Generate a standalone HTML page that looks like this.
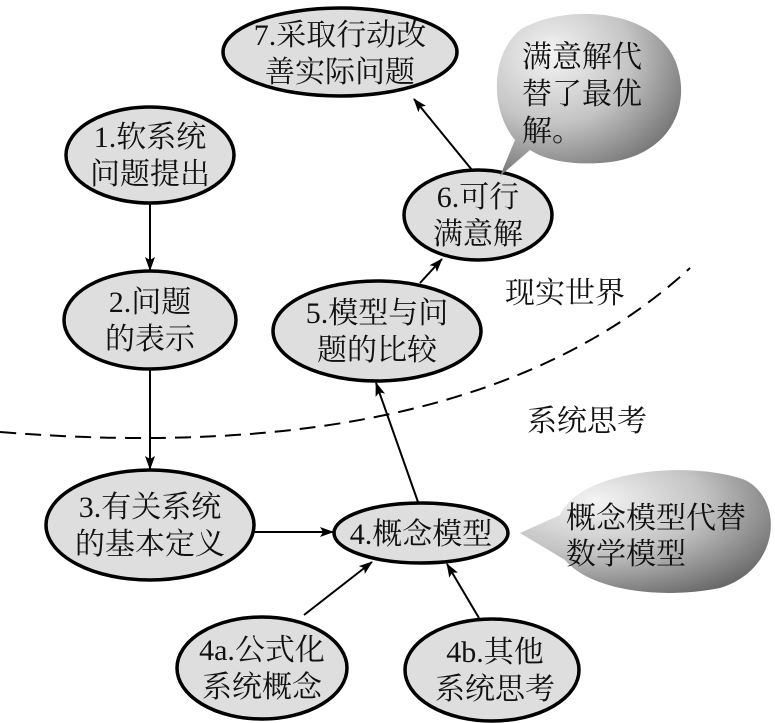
<!DOCTYPE html>
<html><head><meta charset="utf-8"><style>
html,body{margin:0;padding:0;background:#fff;}
svg{display:block}
text{font-family:"Liberation Serif","Noto Serif CJK SC",serif;font-size:30px;fill:#111;text-anchor:middle}
</style></head><body>
<svg width="775" height="723" viewBox="0 0 775 723" xmlns="http://www.w3.org/2000/svg">
<defs>
<radialGradient id="cg" cx="0.3" cy="0.25" r="0.85">
<stop offset="0" stop-color="#f4f4f4"/><stop offset="0.5" stop-color="#c4c4c4"/><stop offset="1" stop-color="#6a6a6a"/>
</radialGradient>
<marker id="a" markerWidth="14" markerHeight="10" refX="13" refY="5" orient="auto" markerUnits="userSpaceOnUse">
<path d="M0,0 L14,5 L0,10 L3,5 Z" fill="#000"/></marker>
</defs>
<g fill="#dedede" stroke="#000" stroke-width="3.5">
<ellipse cx="340" cy="52" rx="117" ry="44"/>
<ellipse cx="150" cy="155" rx="84" ry="48"/>
<ellipse cx="478" cy="215" rx="74" ry="45"/>
<ellipse cx="150" cy="320" rx="86" ry="49"/>
<ellipse cx="377" cy="331" rx="104" ry="50"/>
<ellipse cx="150" cy="525" rx="104" ry="55"/>
<ellipse cx="421" cy="533" rx="87" ry="30"/>
<ellipse cx="262" cy="668" rx="85" ry="51"/>
<ellipse cx="492" cy="670" rx="87" ry="51"/>
</g>
<path d="M520,30 C560,5 650,5 675,60 C695,110 665,160 600,163 C570,165 545,160 530,150 L500,176 L515,140 C490,110 490,55 520,30 Z" fill="url(#cg)"/>
<path d="M520,533 L560,515 C580,470 690,460 745,480 C785,500 780,570 720,588 C660,600 590,590 565,560 Z" fill="url(#cg)"/>
<path d="M0,432 Q470,470 690,268" fill="none" stroke="#000" stroke-width="2" stroke-dasharray="16,9"/>
<g stroke="#000" stroke-width="2" fill="none" marker-end="url(#a)">
<line x1="472" y1="170" x2="414" y2="99"/>
<line x1="420" y1="283" x2="442" y2="259"/>
<line x1="150" y1="203" x2="150" y2="270"/>
<line x1="150" y1="369" x2="150" y2="469"/>
<line x1="418" y1="502" x2="376" y2="383"/>
<line x1="254" y1="532" x2="333" y2="532"/>
<line x1="304" y1="615" x2="372" y2="562"/>
<line x1="479" y1="618" x2="447" y2="564"/>
</g>
<text x="340" y="45">7.采取行动改</text><text x="340" y="82">善实际问题</text>
<text x="150" y="147">1.软系统</text><text x="150" y="184">问题提出</text>
<text x="478" y="207">6.可行</text><text x="478" y="244">满意解</text>
<text x="150" y="312">2.问题</text><text x="150" y="349">的表示</text>
<text x="377" y="323">5.模型与问</text><text x="377" y="360">题的比较</text>
<text x="150" y="517">3.有关系统</text><text x="150" y="554">的基本定义</text>
<text x="421" y="544">4.概念模型</text>
<text x="262" y="660">4a.公式化</text><text x="262" y="697">系统概念</text>
<text x="495" y="662">4b.其他</text><text x="495" y="699">系统思考</text>
<text x="522" y="67" style="text-anchor:start">满意解代</text>
<text x="522" y="104" style="text-anchor:start">替了最优</text>
<text x="522" y="141" style="text-anchor:start">解。</text>
<text x="566" y="528" style="text-anchor:start">概念模型代替</text>
<text x="566" y="564" style="text-anchor:start">数学模型</text>
<text x="505" y="303" style="text-anchor:start">现实世界</text>
<text x="527" y="431" style="text-anchor:start">系统思考</text>
</svg>
</body></html>
